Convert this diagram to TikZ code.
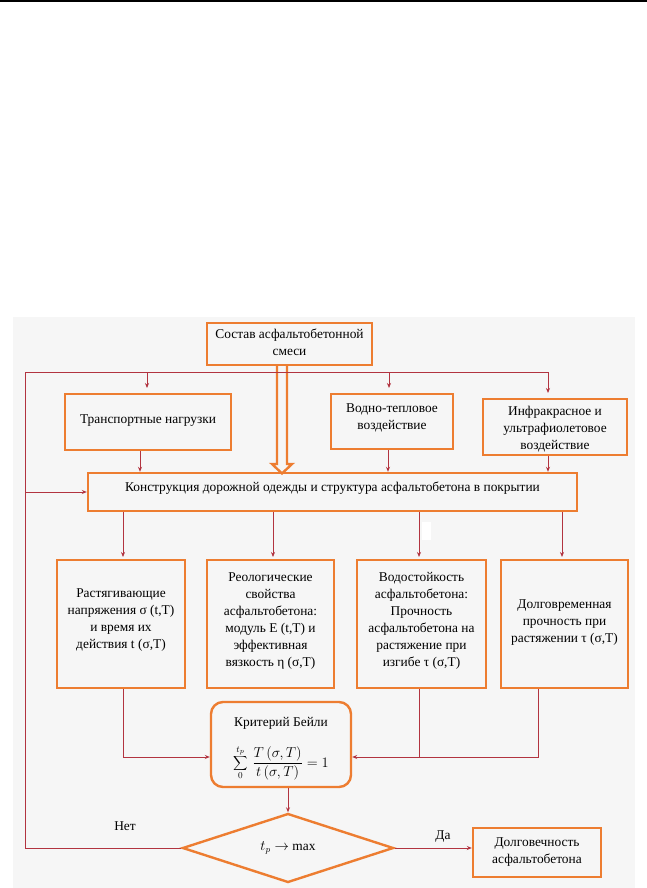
\documentclass[tikz,border=0pt]{standalone}
\usepackage{fontspec}
\setmainfont{Liberation Serif}
\usetikzlibrary{arrows.meta,shapes.geometric}
\definecolor{bgc}{RGB}{246,246,246}
\definecolor{org}{RGB}{237,125,49}
\definecolor{lnc}{RGB}{178,52,64}
\newcommand{\bxt}[2]{\raisebox{#1}[\height][\depth]{\begin{tabular}{@{}c@{}}#2\end{tabular}}}
\tikzset{
  box/.style={draw=org,line width=2.4pt,fill=bgc,inner sep=2pt,
    font=\fontsize{13.4}{17}\selectfont},
  conn/.style={draw=lnc,line width=0.8pt},
  arr/.style={conn,-{Stealth[length=5pt,width=4pt]}},
  lbl/.style={font=\fontsize{13.4}{15}\selectfont,inner sep=0pt}
}
\begin{document}
\begin{tikzpicture}[x=1pt,y=-1pt]
\useasboundingbox (0,0) rectangle (647,888);
\fill[black] (0,0) rectangle (647,2);
\fill[bgc] (13,317) rectangle (635,888);
\fill[white] (422,522) rectangle (431,540);

\node[box,minimum width=165,minimum height=42] (top) at (289.5,344) {\bxt{0pt}{Состав асфальтобетонной\\смеси}};
\node[box,minimum width=166,minimum height=56] (trans) at (148,422) {\bxt{2pt}{Транспортные нагрузки}};
\node[box,minimum width=122,minimum height=55] (vod) at (392,421.5) {\bxt{4pt}{Водно-тепловое\\воздействие}};
\node[box,minimum width=144,minimum height=56] (inf) at (555,427) {\bxt{-2.5pt}{Инфракрасное и\\ультрафиолетовое\\воздействие}};
\node[box,minimum width=489,minimum height=38] (main) at (332.5,492) {\bxt{4pt}{Конструкция дорожной одежды и структура асфальтобетона в покрытии}};

\node[box,minimum width=128,minimum height=128] (b1) at (121,624) {\bxt{4pt}{Растягивающие\\напряжения σ (t,T)\\и время их\\действия t (σ,T)}};
\node[box,minimum width=127,minimum height=128] (b2) at (270.5,624) {\bxt{3.5pt}{Реологические\\свойства\\асфальтобетона:\\модуль E (t,T) и\\эффективная\\вязкость η (σ,T)}};
\node[box,minimum width=129,minimum height=128] (b3) at (421.5,624) {\bxt{3.5pt}{Водостойкость\\асфальтобетона:\\Прочность\\асфальтобетона на\\растяжение при\\изгибе τ (σ,T)}};
\node[box,minimum width=127,minimum height=128] (b4) at (564.5,624) {\bxt{2pt}{Долговременная\\прочность при\\растяжении τ (σ,T)}};

\node[box,rounded corners=12pt,minimum width=140,minimum height=85] (bail) at (281,744.5) {\bxt{-3pt}{Критерий Бейли\\[14pt]
  $\displaystyle\sum_{0}^{t_p}\,\frac{T\left(\sigma,T\right)}{t\left(\sigma,T\right)}=1$}};
\node[box,diamond,shape aspect=3.05,minimum width=211,minimum height=69,inner sep=0pt] (dia) at (288,848) {$t_p\rightarrow$ max};
\node[box,minimum width=128,minimum height=49] (fin) at (537,852.5) {\bxt{0.5pt}{Долговечность\\асфальтобетона}};

% x positions
\coordinate (x1) at (140,0);
\coordinate (x2) at (388,0);
\coordinate (x3) at (548,0);
\coordinate (y1) at (0,557);
\coordinate (c1) at (123,0);
\coordinate (c2) at (273,0);
\coordinate (c3) at (419,0);
\coordinate (c4) at (562,0);
\coordinate (d4) at (538,0);
\coordinate (dx) at (288,0);

% double hollow arrow
\draw[org,line width=2.4pt,line join=miter] (277,365) -- (277,464) -- (272,464) -- (282,473.5) -- (292,464) -- (287,464) -- (287,365);

% feedback loop
\draw[conn] (dia.west) -- (25,848) -- (25,372) -- (549,372);
\draw[arr] (147,372) -- (147,388);
\draw[arr] (389,372) -- (389,388);
\draw[arr] (548,372) -- (548,393);
\draw[arr] (25,492) -- (main.west);

\draw[arr] (trans.south -| x1) -- (main.north -| x1);
\draw[arr] (vod.south -| x2) -- (main.north -| x2);
\draw[arr] (inf.south -| x3) -- (main.north -| x3);

\draw[arr] (main.south -| c1) -- (y1 -| c1);
\draw[arr] (main.south -| c2) -- (y1 -| c2);
\draw[arr] (main.south -| c3) -- (y1 -| c3);
\draw[arr] (main.south -| c4) -- (y1 -| c4);

\coordinate (jl) at (123,757);
\coordinate (jr) at (538,757);
\draw[arr] (b1.south -| c1) -- (jl) -- (jl -| bail.west);
\draw[conn] (b3.south -| c3) -- (jr -| c3);
\draw[arr] (b4.south -| d4) -- (jr) -- (jr -| bail.east);

\draw[arr] (bail.south -| dx) -- (dia.north);
\draw[arr] (dia.east) -- (dia.east -| fin.west);

\node[lbl] (net) at (125,826) {Нет};
\node[lbl] (da) at (443,837) {Да};
\end{tikzpicture}
\end{document}
